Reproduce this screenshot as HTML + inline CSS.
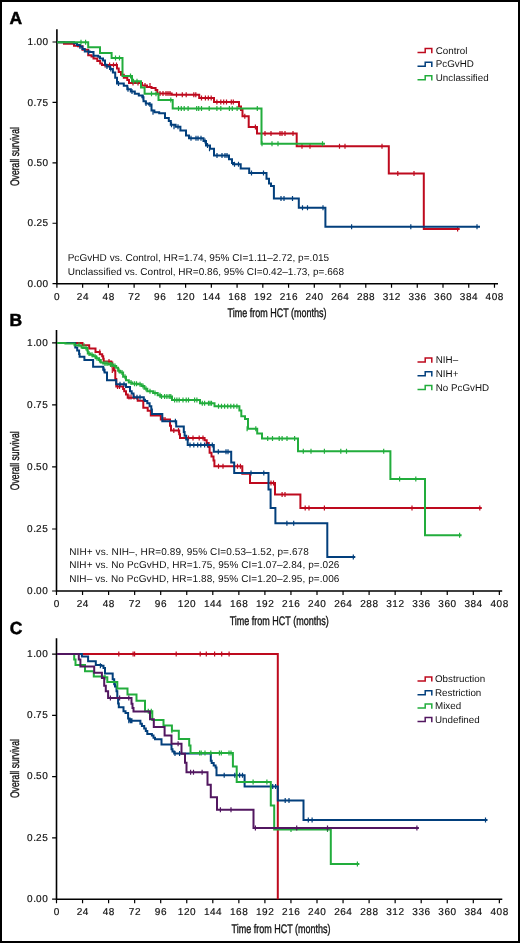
<!DOCTYPE html>
<html><head><meta charset="utf-8"><style>
html,body{margin:0;padding:0;background:#fff;}
body{width:520px;height:943px;overflow:hidden;}
svg{display:block;will-change:transform;}
text{font-family:"Liberation Sans", sans-serif;fill:#111;text-rendering:geometricPrecision;}
.tl{font-size:10px;stroke:#111;stroke-width:0.18px;}
.lg{font-size:9.8px;}
.st{font-size:10px;}
.pl{font-size:17.5px;font-weight:bold;fill:#000;stroke:#000;stroke-width:0.5px;}
.ct{font-size:12.4px;stroke:#111;stroke-width:0.35px;}
</style></head><body>
<svg width="520" height="943" viewBox="0 0 520 943">
<rect x="1" y="1" width="518" height="941" fill="#fff" stroke="#000" stroke-width="2"/>
<path d="M56.90 29.20V283.70H498.00" fill="none" stroke="#000" stroke-width="1.6"/>
<path d="M52.50 283.70H56.90M52.50 223.27H56.90M52.50 162.85H56.90M52.50 102.43H56.90M52.50 42.00H56.90M56.90 283.70V287.70M82.64 283.70V287.70M108.38 283.70V287.70M134.12 283.70V287.70M159.86 283.70V287.70M185.60 283.70V287.70M211.34 283.70V287.70M237.08 283.70V287.70M262.82 283.70V287.70M288.56 283.70V287.70M314.30 283.70V287.70M340.04 283.70V287.70M365.78 283.70V287.70M391.52 283.70V287.70M417.26 283.70V287.70M443.00 283.70V287.70M468.74 283.70V287.70M494.48 283.70V287.70" fill="none" stroke="#000" stroke-width="1.2"/>
<text x="27.49 33.59 36.44 42.54" y="286.90" class="tl">0.00</text>
<text x="27.49 33.59 36.44 42.54" y="226.47" class="tl">0.25</text>
<text x="27.49 33.59 36.44 42.54" y="166.05" class="tl">0.50</text>
<text x="27.49 33.59 36.44 42.54" y="105.63" class="tl">0.75</text>
<text x="27.49 33.59 36.44 42.54" y="45.20" class="tl">1.00</text>
<text x="54.12" y="299.60" class="tl">0</text>
<text x="76.81 82.91" y="299.60" class="tl">24</text>
<text x="102.55 108.65" y="299.60" class="tl">48</text>
<text x="128.29 134.39" y="299.60" class="tl">72</text>
<text x="154.03 160.13" y="299.60" class="tl">96</text>
<text x="176.72 182.82 188.92" y="299.60" class="tl">120</text>
<text x="202.46 208.56 214.66" y="299.60" class="tl">144</text>
<text x="228.20 234.30 240.40" y="299.60" class="tl">168</text>
<text x="253.94 260.04 266.14" y="299.60" class="tl">192</text>
<text x="279.68 285.78 291.88" y="299.60" class="tl">216</text>
<text x="305.42 311.52 317.62" y="299.60" class="tl">240</text>
<text x="331.16 337.26 343.36" y="299.60" class="tl">264</text>
<text x="356.90 363.00 369.10" y="299.60" class="tl">288</text>
<text x="382.64 388.74 394.84" y="299.60" class="tl">312</text>
<text x="408.38 414.48 420.58" y="299.60" class="tl">336</text>
<text x="434.12 440.22 446.32" y="299.60" class="tl">360</text>
<text x="459.86 465.96 472.06" y="299.60" class="tl">384</text>
<text x="485.60 491.70 497.80" y="299.60" class="tl">408</text>
<text x="227.60" y="316.90" class="ct" textLength="99" lengthAdjust="spacingAndGlyphs">Time from HCT (months)</text>
<text transform="translate(18.8 186.10) rotate(-90)" class="ct" textLength="59" lengthAdjust="spacingAndGlyphs">Overall survival</text>
<path d="M56.50 330.00V591.00H502.20" fill="none" stroke="#000" stroke-width="1.6"/>
<path d="M52.10 591.00H56.50M52.10 528.98H56.50M52.10 466.95H56.50M52.10 404.92H56.50M52.10 342.90H56.50M56.50 591.00V595.00M82.55 591.00V595.00M108.60 591.00V595.00M134.65 591.00V595.00M160.70 591.00V595.00M186.75 591.00V595.00M212.80 591.00V595.00M238.85 591.00V595.00M264.90 591.00V595.00M290.95 591.00V595.00M317.00 591.00V595.00M343.05 591.00V595.00M369.10 591.00V595.00M395.15 591.00V595.00M421.20 591.00V595.00M447.25 591.00V595.00M473.30 591.00V595.00M499.35 591.00V595.00" fill="none" stroke="#000" stroke-width="1.2"/>
<text x="27.09 33.19 36.04 42.14" y="593.80" class="tl">0.00</text>
<text x="27.09 33.19 36.04 42.14" y="531.77" class="tl">0.25</text>
<text x="27.09 33.19 36.04 42.14" y="469.75" class="tl">0.50</text>
<text x="27.09 33.19 36.04 42.14" y="407.72" class="tl">0.75</text>
<text x="27.09 33.19 36.04 42.14" y="345.70" class="tl">1.00</text>
<text x="53.72" y="607.00" class="tl">0</text>
<text x="76.72 82.82" y="607.00" class="tl">24</text>
<text x="102.77 108.87" y="607.00" class="tl">48</text>
<text x="128.82 134.92" y="607.00" class="tl">72</text>
<text x="154.87 160.97" y="607.00" class="tl">96</text>
<text x="177.87 183.97 190.07" y="607.00" class="tl">120</text>
<text x="203.92 210.02 216.12" y="607.00" class="tl">144</text>
<text x="229.97 236.07 242.17" y="607.00" class="tl">168</text>
<text x="256.02 262.12 268.22" y="607.00" class="tl">192</text>
<text x="282.07 288.17 294.27" y="607.00" class="tl">216</text>
<text x="308.12 314.22 320.32" y="607.00" class="tl">240</text>
<text x="334.17 340.27 346.37" y="607.00" class="tl">264</text>
<text x="360.22 366.32 372.42" y="607.00" class="tl">288</text>
<text x="386.27 392.37 398.47" y="607.00" class="tl">312</text>
<text x="412.32 418.42 424.52" y="607.00" class="tl">336</text>
<text x="438.37 444.47 450.57" y="607.00" class="tl">360</text>
<text x="464.42 470.52 476.62" y="607.00" class="tl">384</text>
<text x="490.47 496.57 502.67" y="607.00" class="tl">408</text>
<text x="229.70" y="624.80" class="ct" textLength="99" lengthAdjust="spacingAndGlyphs">Time from HCT (months)</text>
<text transform="translate(18.8 490.20) rotate(-90)" class="ct" textLength="59" lengthAdjust="spacingAndGlyphs">Overall survival</text>
<path d="M56.50 638.20V899.20H502.30" fill="none" stroke="#000" stroke-width="1.6"/>
<path d="M52.10 899.20H56.50M52.10 837.93H56.50M52.10 776.65H56.50M52.10 715.38H56.50M52.10 654.10H56.50M56.50 899.20V903.20M82.55 899.20V903.20M108.60 899.20V903.20M134.65 899.20V903.20M160.70 899.20V903.20M186.75 899.20V903.20M212.80 899.20V903.20M238.85 899.20V903.20M264.90 899.20V903.20M290.95 899.20V903.20M317.00 899.20V903.20M343.05 899.20V903.20M369.10 899.20V903.20M395.15 899.20V903.20M421.20 899.20V903.20M447.25 899.20V903.20M473.30 899.20V903.20M499.35 899.20V903.20" fill="none" stroke="#000" stroke-width="1.2"/>
<text x="27.09 33.19 36.04 42.14" y="902.00" class="tl">0.00</text>
<text x="27.09 33.19 36.04 42.14" y="840.73" class="tl">0.25</text>
<text x="27.09 33.19 36.04 42.14" y="779.45" class="tl">0.50</text>
<text x="27.09 33.19 36.04 42.14" y="718.17" class="tl">0.75</text>
<text x="27.09 33.19 36.04 42.14" y="656.90" class="tl">1.00</text>
<text x="53.72" y="915.30" class="tl">0</text>
<text x="76.72 82.82" y="915.30" class="tl">24</text>
<text x="102.77 108.87" y="915.30" class="tl">48</text>
<text x="128.82 134.92" y="915.30" class="tl">72</text>
<text x="154.87 160.97" y="915.30" class="tl">96</text>
<text x="177.87 183.97 190.07" y="915.30" class="tl">120</text>
<text x="203.92 210.02 216.12" y="915.30" class="tl">144</text>
<text x="229.97 236.07 242.17" y="915.30" class="tl">168</text>
<text x="256.02 262.12 268.22" y="915.30" class="tl">192</text>
<text x="282.07 288.17 294.27" y="915.30" class="tl">216</text>
<text x="308.12 314.22 320.32" y="915.30" class="tl">240</text>
<text x="334.17 340.27 346.37" y="915.30" class="tl">264</text>
<text x="360.22 366.32 372.42" y="915.30" class="tl">288</text>
<text x="386.27 392.37 398.47" y="915.30" class="tl">312</text>
<text x="412.32 418.42 424.52" y="915.30" class="tl">336</text>
<text x="438.37 444.47 450.57" y="915.30" class="tl">360</text>
<text x="464.42 470.52 476.62" y="915.30" class="tl">384</text>
<text x="490.47 496.57 502.67" y="915.30" class="tl">408</text>
<text x="231.50" y="933.10" class="ct" textLength="99" lengthAdjust="spacingAndGlyphs">Time from HCT (months)</text>
<text transform="translate(18.8 798.10) rotate(-90)" class="ct" textLength="59" lengthAdjust="spacingAndGlyphs">Overall survival</text>
<text x="9.6" y="23.6" class="pl">A</text>
<text x="9.6" y="326.2" class="pl">B</text>
<text x="9.8" y="633.8" class="pl">C</text>
<path d="M417.50 52.60H425.20V48.60H431.80V53.30" fill="none" stroke="#be0a1e" stroke-width="1.5"/>
<text x="435.80" y="53.60" class="lg">Control</text>
<path d="M417.50 66.20H425.20V62.20H431.80V66.90" fill="none" stroke="#023f7c" stroke-width="1.5"/>
<text x="435.80" y="67.20" class="lg">PcGvHD</text>
<path d="M417.50 79.70H425.20V75.70H431.80V80.40" fill="none" stroke="#22ad3c" stroke-width="1.5"/>
<text x="435.80" y="80.70" class="lg">Unclassified</text>
<path d="M417.50 362.00H425.20V358.00H431.80V362.70" fill="none" stroke="#be0a1e" stroke-width="1.5"/>
<text x="435.80" y="363.00" class="lg">NIH–</text>
<path d="M417.50 375.70H425.20V371.70H431.80V376.40" fill="none" stroke="#023f7c" stroke-width="1.5"/>
<text x="435.80" y="376.70" class="lg">NIH+</text>
<path d="M417.50 389.50H425.20V385.50H431.80V390.20" fill="none" stroke="#22ad3c" stroke-width="1.5"/>
<text x="435.80" y="390.50" class="lg">No PcGvHD</text>
<path d="M417.50 680.90H425.20V676.90H431.80V681.60" fill="none" stroke="#be0a1e" stroke-width="1.5"/>
<text x="435.00" y="681.90" class="lg">Obstruction</text>
<path d="M417.50 694.70H425.20V690.70H431.80V695.40" fill="none" stroke="#023f7c" stroke-width="1.5"/>
<text x="435.00" y="695.70" class="lg">Restriction</text>
<path d="M417.50 708.00H425.20V704.00H431.80V708.70" fill="none" stroke="#22ad3c" stroke-width="1.5"/>
<text x="435.00" y="709.00" class="lg">Mixed</text>
<path d="M417.50 721.50H425.20V717.50H431.80V722.20" fill="none" stroke="#521760" stroke-width="1.5"/>
<text x="435.00" y="722.50" class="lg">Undefined</text>
<text x="67.65" y="260.50" class="st" textLength="261.50" lengthAdjust="spacing">PcGvHD vs. Control, HR=1.74, 95% CI=1.11–2.72, p=.015</text>
<text x="67.65" y="274.50" class="st" textLength="276.30" lengthAdjust="spacing">Unclassified vs. Control, HR=0.86, 95% CI=0.42–1.73, p=.668</text>
<text x="69.20" y="554.50" class="st" textLength="239.60" lengthAdjust="spacing">NIH+ vs. NIH–, HR=0.89, 95% CI=0.53–1.52, p=.678</text>
<text x="69.20" y="568.30" class="st" textLength="270.20" lengthAdjust="spacing">NIH+ vs. No PcGvHD, HR=1.75, 95% CI=1.07–2.84, p=.026</text>
<text x="69.20" y="582.20" class="st" textLength="270.20" lengthAdjust="spacing">NIH– vs. No PcGvHD, HR=1.88, 95% CI=1.20–2.95, p=.006</text>
<path d="M57.00 42.20H64.00V43.70H74.00V45.80H78.00V46.30H82.50V49.80H88.20V55.30H91.50V56.40H93.50V58.60H97.30V61.00H100.20V63.40H102.00V65.00H117.00V68.50H118.70V72.00H121.00V74.80H123.80V77.70H127.30V80.00H129.00V82.90H142.00V85.50H147.00V87.00H151.50V88.00H155.60V90.00H157.30V93.60H171.70V94.80H199.20V98.00H214.00V101.90H239.00V106.50H241.00V110.00H242.50V116.30H248.70V127.00H257.00V133.60H296.70V146.20H388.80V173.50H423.80V229.10H459.70" fill="none" stroke="#be0a1e" stroke-width="2.0" stroke-linejoin="miter"/>
<path d="M105.00 62.50V67.50M109.60 62.50V67.50M113.50 62.50V67.50M116.50 62.50V67.50M133.00 80.40V85.40M138.00 80.40V85.40M145.00 83.00V88.00M150.00 83.00V88.00M160.00 91.10V96.10M163.00 91.10V96.10M166.00 91.10V96.10M168.00 91.10V96.10M170.00 91.10V96.10M176.50 92.30V97.30M182.30 92.30V97.30M186.20 92.30V97.30M193.80 92.30V97.30M195.80 92.30V97.30M201.50 95.50V100.50M205.40 95.50V100.50M208.30 95.50V100.50M211.20 95.50V100.50M216.90 99.40V104.40M220.80 99.40V104.40M223.70 99.40V104.40M226.50 99.40V104.40M231.30 99.40V104.40M233.30 99.40V104.40M244.80 113.80V118.80M255.40 124.50V129.50M265.00 131.10V136.10M271.00 131.10V136.10M280.00 131.10V136.10M282.00 131.10V136.10M285.00 131.10V136.10M293.00 131.10V136.10M302.00 143.70V148.70M310.00 143.70V148.70M339.50 143.70V148.70M345.00 143.70V148.70M382.00 143.70V148.70M397.80 171.00V176.00M414.00 171.00V176.00M457.60 226.60V231.60" fill="none" stroke="#be0a1e" stroke-width="1.2"/>
<path d="M57.00 42.20H74.00V43.20H77.00V45.10H80.00V46.60H82.40V49.00H84.80V51.40H89.60V52.00H93.50V55.70H98.30V56.70H100.00V58.50H103.00V60.50H105.00V64.80H106.50V66.50H110.00V69.00H112.90V72.50H115.20V77.70H117.00V83.50H123.80V85.80H127.30V89.20H130.80V91.50H134.80V93.80H138.80V95.60H142.30V97.30H143.50V101.30H145.80V103.50H149.00V104.60H151.50V110.40H154.40V112.30H159.20V113.30H165.00V118.00H168.80V121.00H170.80V124.80H175.60V126.70H180.40V130.60H186.00V135.40H189.00V138.30H203.50V141.00H206.00V145.50H210.00V148.80H214.00V155.60H229.00V159.20H232.00V163.00H233.00V164.30H240.70V168.50H249.20V173.00H266.50V178.80H269.00V183.50H271.00V186.00H273.90V198.50H298.80V207.70H325.40V226.80H480.00" fill="none" stroke="#023f7c" stroke-width="2.0" stroke-linejoin="miter"/>
<path d="M80.00 44.10V49.10M88.60 49.40V54.40M107.00 64.00V69.00M110.80 66.50V71.50M118.50 81.00V86.00M128.00 86.70V91.70M132.00 89.00V94.00M143.20 94.80V99.80M146.00 101.00V106.00M150.00 102.10V107.10M153.00 109.80V114.80M171.50 122.30V127.30M174.00 124.20V129.20M178.00 124.20V129.20M205.00 138.50V143.50M207.50 143.00V148.00M209.50 146.30V151.30M191.00 135.80V140.80M196.00 135.80V140.80M198.00 135.80V140.80M201.00 135.80V140.80M217.00 153.10V158.10M222.00 153.10V158.10M225.00 153.10V158.10M227.00 153.10V158.10M234.50 161.80V166.80M238.50 161.80V166.80M251.50 170.50V175.50M263.50 170.50V175.50M281.00 196.00V201.00M284.00 196.00V201.00M292.50 196.00V201.00M302.50 205.20V210.20M307.50 205.20V210.20M323.00 205.20V210.20M351.60 224.30V229.30M410.80 224.30V229.30M477.00 224.30V229.30" fill="none" stroke="#023f7c" stroke-width="1.2"/>
<path d="M57.00 42.20H88.20V47.30H100.00V53.00H111.60V58.10H122.50V76.00H132.00V81.20H141.00V87.50H144.60V93.80H158.50V100.00H172.70V108.50H261.50V143.80H325.00" fill="none" stroke="#22ad3c" stroke-width="2.0" stroke-linejoin="miter"/>
<path d="M81.00 39.70V44.70M85.60 39.70V44.70M115.50 55.60V60.60M119.50 55.60V60.60M130.50 73.50V78.50M133.50 78.70V83.70M137.00 78.70V83.70M151.50 91.30V96.30M156.00 91.30V96.30M170.80 97.50V102.50M178.50 106.00V111.00M181.30 106.00V111.00M184.20 106.00V111.00M188.10 106.00V111.00M196.70 106.00V111.00M198.70 106.00V111.00M201.50 106.00V111.00M209.20 106.00V111.00M216.90 106.00V111.00M220.80 106.00V111.00M229.40 106.00V111.00M232.30 106.00V111.00M237.10 106.00V111.00M257.30 106.00V111.00M262.00 141.30V146.30M272.00 141.30V146.30M278.00 141.30V146.30M322.50 141.30V146.30" fill="none" stroke="#22ad3c" stroke-width="1.2"/>
<path d="M57.00 342.90H82.50V345.20H89.20V348.60H95.50V352.00H99.80V354.30H102.20V356.30H103.20V358.70H103.70V361.40H111.30V362.50H112.30V366.80H114.00V370.50H115.30V379.00H116.30V386.50H123.10V389.00H124.20V391.20H126.00V394.60H127.70V397.70H137.70V400.80H143.30V407.70H147.70V410.80H150.80V415.50H160.80V419.60H170.00V425.80H171.00V430.40H179.20V434.20H180.00V438.00H204.60V440.20H206.70V443.00H208.70V447.00H209.60V452.70H211.50V456.50H213.50V460.40H214.40V466.20H242.30V473.80H250.00V483.10H275.00V494.40H300.40V507.90H481.80" fill="none" stroke="#be0a1e" stroke-width="2.0" stroke-linejoin="miter"/>
<path d="M99.80 349.50V354.50M109.00 358.90V363.90M112.30 368.00V373.00M117.50 384.00V389.00M119.50 384.00V389.00M129.00 394.40V399.40M131.00 394.40V399.40M134.00 394.40V399.40M163.00 417.10V422.10M165.00 417.10V422.10M173.80 427.90V432.90M178.50 427.90V432.90M188.50 435.50V440.50M193.00 435.50V440.50M199.20 435.50V440.50M203.00 435.50V440.50M218.50 463.70V468.70M223.00 463.70V468.70M237.50 463.70V468.70M240.40 463.70V468.70M271.00 480.60V485.60M273.50 480.60V485.60M282.10 491.90V496.90M285.00 491.90V496.90M305.20 505.40V510.40M309.00 505.40V510.40M324.40 505.40V510.40M412.00 505.40V510.40M479.80 505.40V510.40" fill="none" stroke="#be0a1e" stroke-width="1.2"/>
<path d="M57.00 342.90H75.30V347.60H77.20V350.50H79.10V353.90H79.60V356.80H84.40V360.10H93.10V366.80H103.20V369.70H104.60V372.60H107.00V380.30H116.20V384.20H126.00V387.10H130.00V391.20H131.70V393.50H133.50V397.30H143.80V399.80H145.00V401.00H147.30V403.30H149.60V406.20H151.30V409.60H151.90V414.00H162.30V421.20H176.20V426.50H183.80V431.90H184.60V435.80H186.20V439.60H187.70V445.00H213.80V451.70H231.20V462.50H234.20V473.10H268.50V489.60H270.60V507.90H275.40V523.30H327.30V556.90H355.30" fill="none" stroke="#023f7c" stroke-width="2.0" stroke-linejoin="miter"/>
<path d="M104.00 367.20V372.20M120.00 381.70V386.70M124.00 381.70V386.70M137.00 394.80V399.80M140.00 394.80V399.80M175.40 418.70V423.70M190.00 442.50V447.50M193.80 442.50V447.50M197.70 442.50V447.50M200.80 442.50V447.50M204.60 442.50V447.50M207.50 442.50V447.50M212.30 442.50V447.50M218.30 449.20V454.20M226.00 449.20V454.20M228.00 449.20V454.20M251.00 470.60V475.60M263.80 470.60V475.60M286.90 520.80V525.80M293.70 520.80V525.80M353.30 554.40V559.40" fill="none" stroke="#023f7c" stroke-width="1.2"/>
<path d="M57.00 342.90H65.40V343.60H74.50V345.20H80.60V345.70H81.50V347.50H82.50V348.10H85.40V348.10H87.30V350.50H87.80V353.40H90.20V354.80H93.10V356.30H96.00V358.20H98.80V360.10H100.80V362.50H103.20V363.50H108.50V364.40H113.30V365.90H116.20V367.80H118.10V370.70H120.20V372.50H123.10V376.70H126.00V380.20H128.80V382.50H132.30V383.70H138.00V384.20H141.50V386.00H144.40V388.80H147.30V391.20H153.10V392.90H157.70V395.20H160.50V396.50H172.00V400.00H200.00V403.30H214.50V406.20H239.40V410.40H241.30V416.20H245.00V419.00H248.00V428.70H257.20V433.50H262.00V438.50H298.00V451.20H390.40V479.00H425.00V535.30H461.60" fill="none" stroke="#22ad3c" stroke-width="2.0" stroke-linejoin="miter"/>
<path d="M79.00 342.20V347.20M84.00 343.20V348.20M86.00 345.60V350.60M89.00 350.90V355.90M92.00 352.30V357.30M95.00 353.80V358.80M97.00 355.70V360.70M99.50 357.60V362.60M105.00 361.00V366.00M107.00 361.00V366.00M110.50 361.90V366.90M112.00 361.90V366.90M115.00 363.40V368.40M119.00 368.20V373.20M122.00 370.00V375.00M125.00 374.20V379.20M131.00 380.00V385.00M134.50 381.20V386.20M136.50 381.20V386.20M140.00 381.70V386.70M143.00 383.50V388.50M146.00 386.30V391.30M150.00 388.70V393.70M155.00 390.40V395.40M160.00 392.70V397.70M161.50 394.00V399.00M164.60 394.00V399.00M166.90 394.00V399.00M169.20 394.00V399.00M170.80 394.00V399.00M174.60 397.50V402.50M176.90 397.50V402.50M179.20 397.50V402.50M183.00 397.50V402.50M186.20 397.50V402.50M188.50 397.50V402.50M194.60 397.50V402.50M196.90 397.50V402.50M202.30 400.80V405.80M204.60 400.80V405.80M208.50 400.80V405.80M210.00 400.80V405.80M211.50 400.80V405.80M218.50 403.70V408.70M221.50 403.70V408.70M224.60 403.70V408.70M227.70 403.70V408.70M230.80 403.70V408.70M233.80 403.70V408.70M236.90 403.70V408.70M247.10 426.20V431.20M255.80 426.20V431.20M267.70 436.00V441.00M272.50 436.00V441.00M279.20 436.00V441.00M282.10 436.00V441.00M287.00 436.00V441.00M294.60 436.00V441.00M303.30 448.70V453.70M311.00 448.70V453.70M324.40 448.70V453.70M340.80 448.70V453.70M346.50 448.70V453.70M383.70 448.70V453.70M399.60 476.50V481.50M415.80 476.50V481.50M459.60 532.80V537.80" fill="none" stroke="#22ad3c" stroke-width="1.2"/>
<path d="M57.00 654.10H277.80V899.20" fill="none" stroke="#be0a1e" stroke-width="2.0" stroke-linejoin="miter"/>
<path d="M118.80 651.60V656.60M133.10 651.60V656.60M134.60 651.60V656.60M176.20 651.60V656.60M200.20 651.60V656.60M206.30 651.60V656.60M214.60 651.60V656.60M221.70 651.60V656.60M229.10 651.60V656.60" fill="none" stroke="#be0a1e" stroke-width="1.2"/>
<path d="M57.00 654.10H81.90V656.50H88.10V661.20H95.80V665.00H101.20V665.80H103.50V668.10H105.00V673.50H112.70V679.20H114.20V684.20H115.00V686.50H116.50V691.20H117.30V698.10H118.10V703.50H118.80V707.30H123.50V711.20H125.50V713.10H128.10V718.50H129.60V720.80H140.40V723.80H141.90V726.00H144.20V728.50H145.80V731.00H147.30V734.00H151.90V735.50H153.50V737.70H155.00V739.20H161.50V744.60H171.50V749.20H172.50V751.50H174.20V753.40H210.80V760.80H211.70V763.00H213.70V765.60H215.60V767.50H216.50V775.20H244.60V786.50H277.80V800.40H303.50V820.10H487.50" fill="none" stroke="#023f7c" stroke-width="2.0" stroke-linejoin="miter"/>
<path d="M100.40 663.30V668.30M128.80 718.30V723.30M131.20 718.30V723.30M130.40 718.30V723.30M131.90 718.30V723.30M175.00 750.90V755.90M179.60 750.90V755.90M224.20 772.70V777.70M234.80 772.70V777.70M239.60 772.70V777.70M242.50 772.70V777.70M272.70 784.00V789.00M275.60 784.00V789.00M285.20 797.90V802.90M289.00 797.90V802.90M308.30 817.60V822.60M312.10 817.60V822.60M485.50 817.60V822.60" fill="none" stroke="#023f7c" stroke-width="1.2"/>
<path d="M57.00 654.10H74.20V659.60H75.50V665.00H85.00V671.20H93.80V676.50H104.20V677.30H107.30V681.90H117.30V688.50H127.50V694.60H136.50V700.80H145.00V711.20H152.30V720.00H163.50V725.40H171.90V730.80H178.80V738.90H189.20V745.40H190.50V753.10H232.90V766.50H236.70V781.90H270.80V805.60H274.20V829.60H330.80V864.00H359.40" fill="none" stroke="#22ad3c" stroke-width="2.0" stroke-linejoin="miter"/>
<path d="M105.00 674.80V679.80M148.30 708.70V713.70M151.30 708.70V713.70M171.90 728.30V733.30M199.60 750.60V755.60M201.20 750.60V755.60M205.00 750.60V755.60M210.80 750.60V755.60M219.40 750.60V755.60M221.30 750.60V755.60M229.00 750.60V755.60M231.00 750.60V755.60M253.10 779.40V784.40M266.90 779.40V784.40M291.00 827.10V832.10M327.50 827.10V832.10M357.40 861.50V866.50" fill="none" stroke="#22ad3c" stroke-width="1.2"/>
<path d="M57.00 654.10H78.80V659.60H80.40V666.50H94.20V672.70H101.90V678.10H104.20V685.80H105.80V691.20H108.10V698.10H131.50V703.80H132.50V708.00H133.50V711.50H150.00V719.20H153.80V726.90H164.60V735.40H171.50V743.80H181.50V753.80H185.00V762.70H186.50V772.30H207.50V784.80H210.80V797.30H217.00V809.80H253.50V828.10H418.90" fill="none" stroke="#521760" stroke-width="2.0" stroke-linejoin="miter"/>
<path d="M110.40 695.60V700.60M119.60 695.60V700.60M128.80 695.60V700.60M178.10 741.30V746.30M190.60 769.80V774.80M193.50 769.80V774.80M202.10 769.80V774.80M220.40 807.30V812.30M231.00 807.30V812.30M255.40 825.60V830.60M296.70 825.60V830.60M327.50 825.60V830.60M416.90 825.60V830.60" fill="none" stroke="#521760" stroke-width="1.2"/>
</svg>
</body></html>
